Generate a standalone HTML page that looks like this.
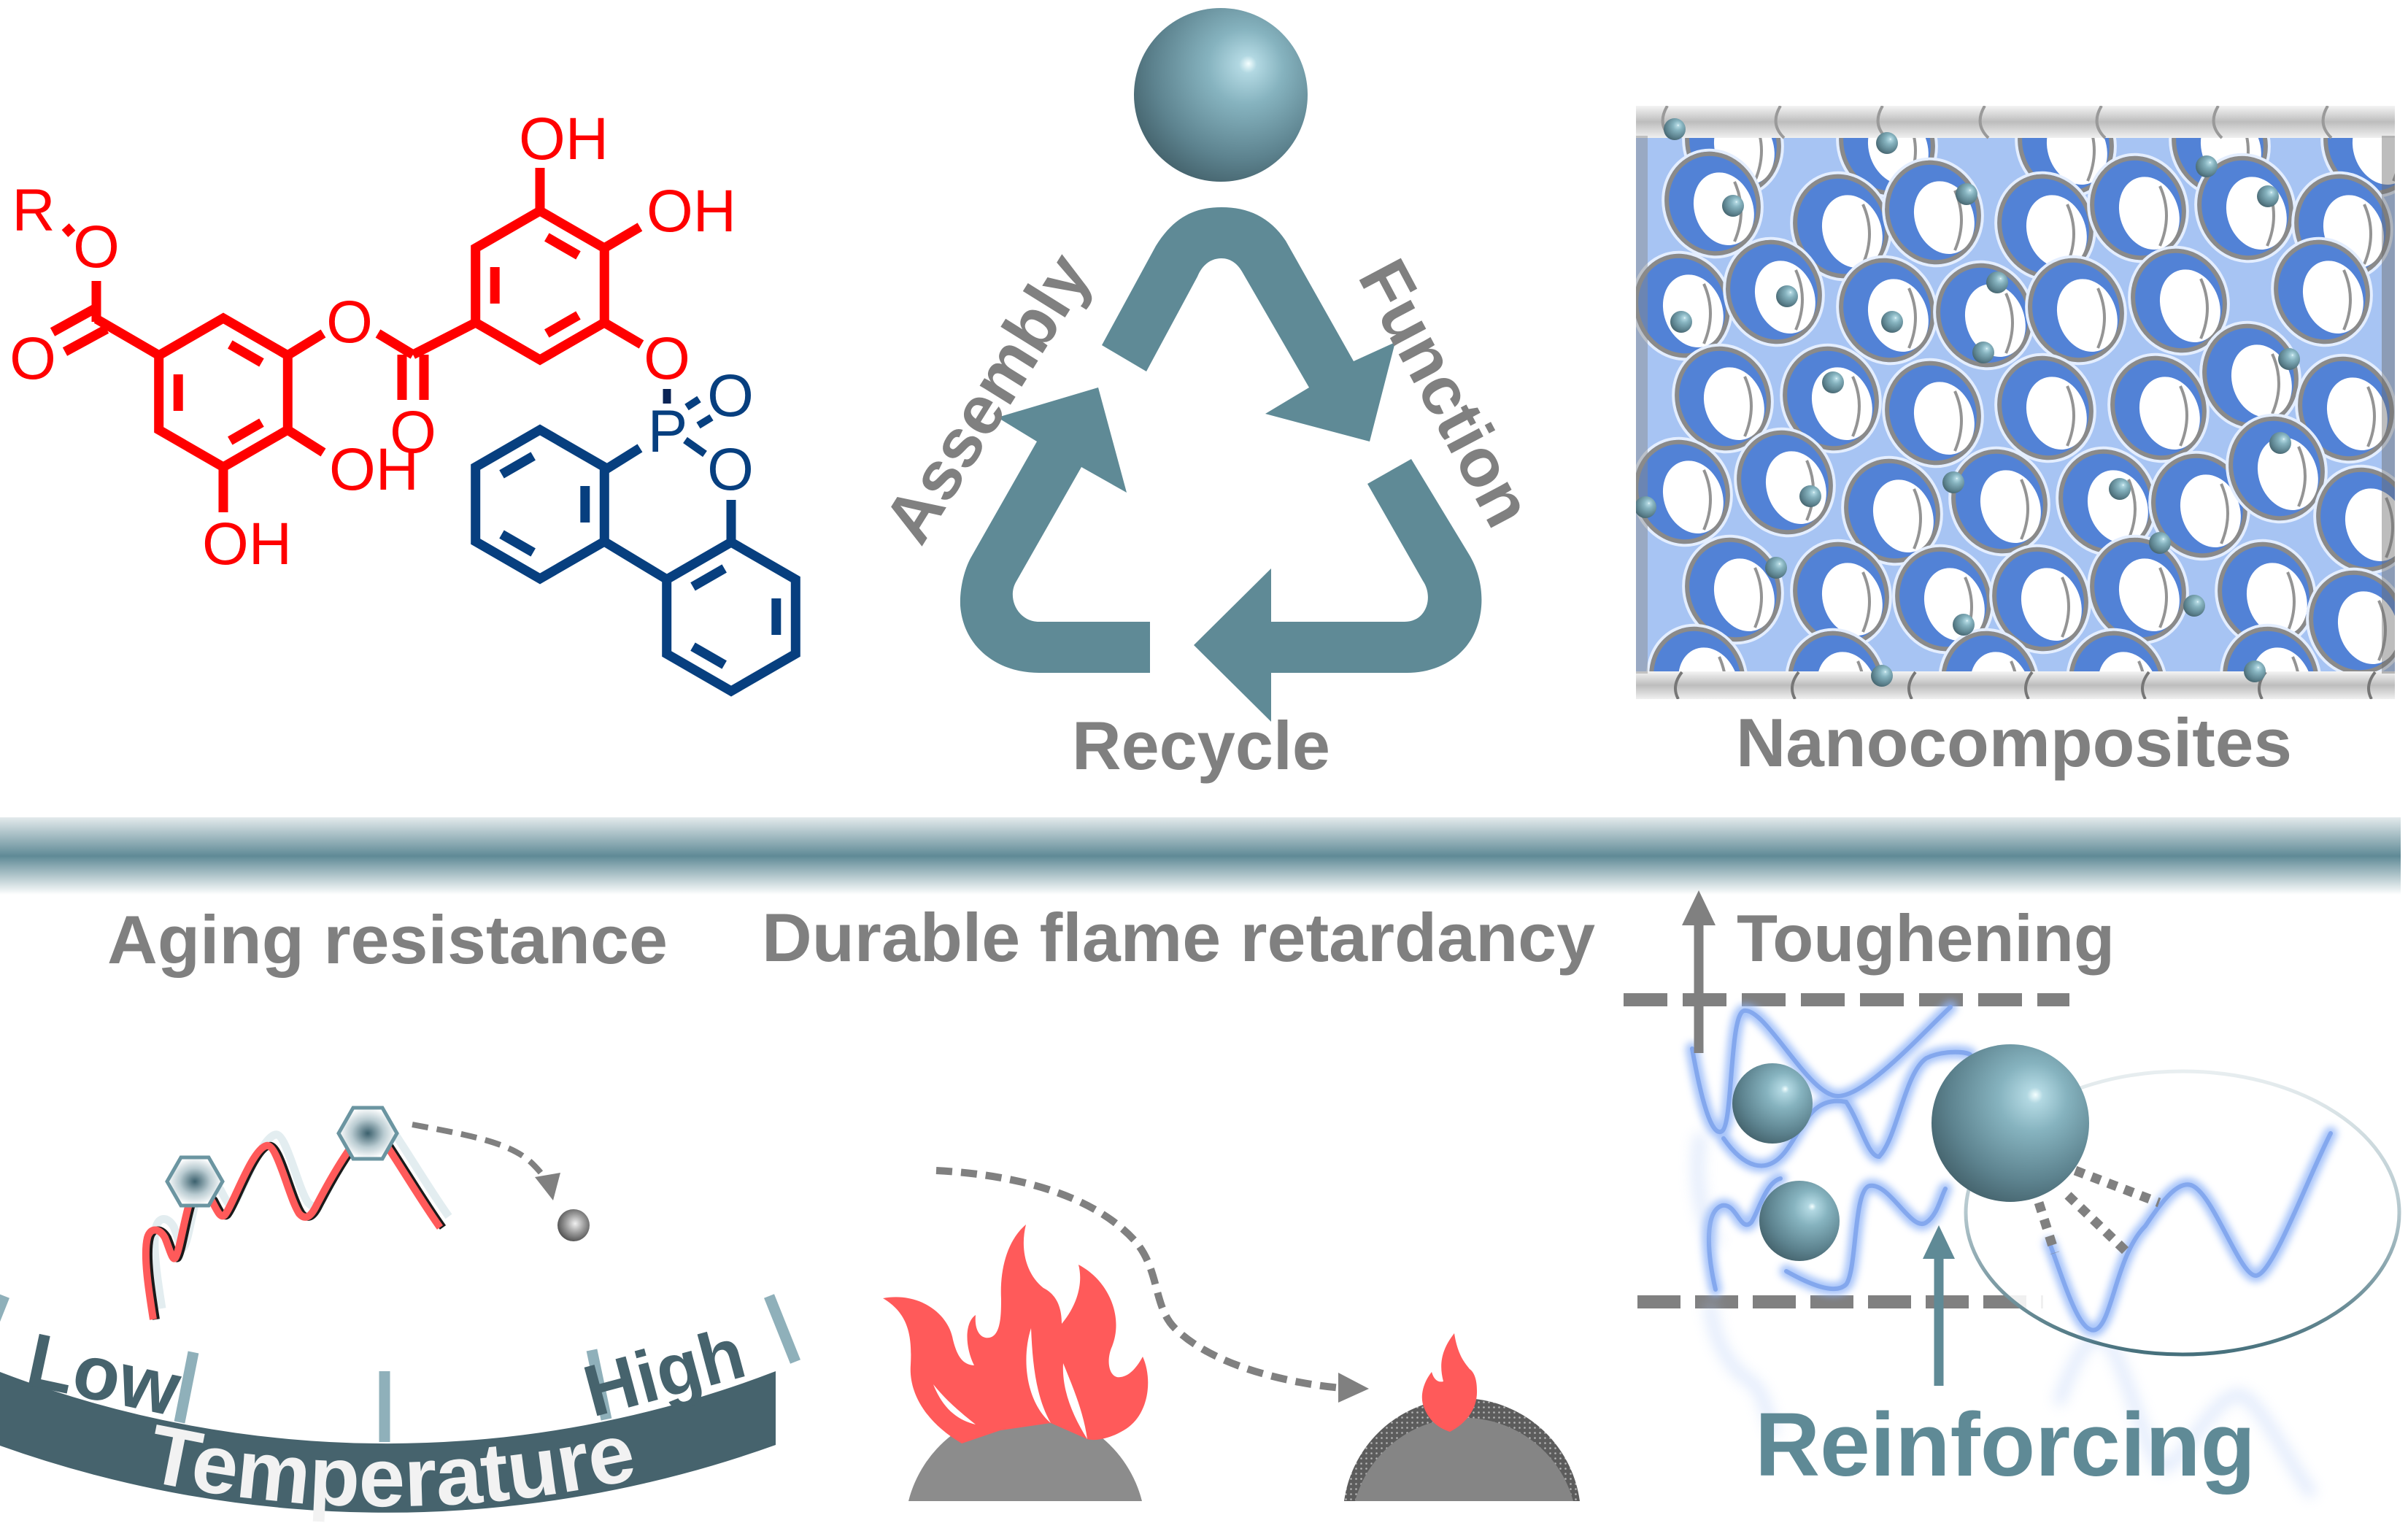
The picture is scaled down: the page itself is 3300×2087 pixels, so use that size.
<!DOCTYPE html>
<html><head><meta charset="utf-8"><style>html,body{margin:0;padding:0;background:#fff}svg{display:block}</style></head>
<body>
<svg xmlns="http://www.w3.org/2000/svg" xmlns:xlink="http://www.w3.org/1999/xlink" width="3300" height="2087" viewBox="0 0 3300 2087" font-family="'Liberation Sans', Arial, sans-serif">
<defs>
  <radialGradient id="sph" cx="0.6" cy="0.38" r="0.72" fx="0.66" fy="0.32">
    <stop offset="0" stop-color="#f4ffff"/>
    <stop offset="0.07" stop-color="#b2d8e2"/>
    <stop offset="0.3" stop-color="#86b3bf"/>
    <stop offset="0.7" stop-color="#5d838f"/>
    <stop offset="1" stop-color="#3e5a63"/>
  </radialGradient>
  <radialGradient id="gsph" cx="0.55" cy="0.45" r="0.6">
    <stop offset="0" stop-color="#f0f0f0"/>
    <stop offset="0.5" stop-color="#9a9a9a"/>
    <stop offset="1" stop-color="#4a4a4a"/>
  </radialGradient>
  <radialGradient id="hexg" cx="0.5" cy="0.5" r="0.5">
    <stop offset="0" stop-color="#3b606d"/>
    <stop offset="0.55" stop-color="#b9cbd1"/>
    <stop offset="1" stop-color="#ffffff"/>
  </radialGradient>
  <linearGradient id="bar" x1="0" y1="0" x2="0" y2="1">
    <stop offset="0" stop-color="#e3eaec"/>
    <stop offset="0.5" stop-color="#5f8a96"/>
    <stop offset="1" stop-color="#ffffff"/>
  </linearGradient>
  <linearGradient id="ell" gradientUnits="userSpaceOnUse" x1="0" y1="1468" x2="0" y2="1856">
    <stop offset="0" stop-color="#e8eef0"/>
    <stop offset="0.5" stop-color="#b4c7cd"/>
    <stop offset="1" stop-color="#46707c"/>
  </linearGradient>
  <linearGradient id="tube" x1="0" y1="0" x2="0" y2="1">
    <stop offset="0" stop-color="#f4f4f4"/>
    <stop offset="0.5" stop-color="#bdbdbd"/>
    <stop offset="1" stop-color="#f0f0f0"/>
  </linearGradient>
  <pattern id="dots" width="7" height="7" patternUnits="userSpaceOnUse">
    <rect width="7" height="7" fill="#5c5c5c"/>
    <circle cx="3.5" cy="3.5" r="1.3" fill="#b4b4b4"/>
  </pattern>
  <filter id="blur" x="-20%" y="-20%" width="140%" height="140%">
    <feGaussianBlur stdDeviation="5"/>
  </filter>
  <filter id="blur2" x="-20%" y="-20%" width="140%" height="140%">
    <feGaussianBlur stdDeviation="9"/>
  </filter>
  <clipPath id="foamclip"><rect x="2242" y="145" width="1040" height="813"/></clipPath>
  <polygon id="hx" points="0,-102 88.3,-51 88.3,51 0,102 -88.3,51 -88.3,-51" fill="none"/>
  <path id="dbA" d="M9.3,-66 L52.5,-41.1 M52.5,41.1 L9.3,66 M-61.8,25 L-61.8,-25" fill="none"/>
  <path id="dbB" d="M61.8,-25 L61.8,25 M-9.3,66 L-52.5,41.1 M-52.5,-41.1 L-9.3,-66" fill="none"/>
  <g id="hole">
    <ellipse rx="67" ry="74" fill="none" stroke="#e4eeff" stroke-width="4" transform="rotate(-20)"/>
    <ellipse rx="62" ry="69" fill="#5282d6" stroke="#8a8a8a" stroke-width="6" transform="rotate(-20)"/>
    <ellipse cx="12" cy="12" rx="40" ry="51" fill="#ffffff" transform="rotate(-20)"/>
    <path d="M30,-30 Q48,10 30,52" stroke="#2a2a2a" stroke-width="4" fill="none" opacity="0.5"/>
  </g>
  <circle id="ts" r="15" fill="url(#sph)"/>
</defs>

<!-- ============ TOP LEFT: CHEMICAL STRUCTURE ============ -->
<g stroke="#ff0000" stroke-width="13" fill="none" stroke-linejoin="miter">
  <use xlink:href="#hx" x="306" y="538"/><use xlink:href="#dbA" x="306" y="538"/>
  <use xlink:href="#hx" x="740" y="391"/><use xlink:href="#dbA" x="740" y="391"/>
  <line x1="218" y1="487" x2="132" y2="437"/>
  <line x1="132" y1="441" x2="132" y2="385"/>
  <line x1="72" y1="455" x2="130" y2="423"/>
  <line x1="89" y1="482" x2="146" y2="451"/>
  <line x1="89" y1="320" x2="99" y2="311"/>
  <line x1="394" y1="487" x2="443" y2="457"/>
  <line x1="518" y1="457" x2="566" y2="486"/>
  <line x1="566" y1="486" x2="652" y2="442"/>
  <line x1="551" y1="486" x2="551" y2="548"/>
  <line x1="581" y1="486" x2="581" y2="548"/>
  <line x1="394" y1="589" x2="443" y2="620"/>
  <line x1="306" y1="640" x2="306" y2="702"/>
  <line x1="740" y1="289" x2="740" y2="230"/>
  <line x1="828" y1="340" x2="877" y2="311"/>
  <line x1="828" y1="442" x2="879" y2="472"/>
</g>
<g fill="#ff0000" font-size="82">
  <text x="46" y="316" text-anchor="middle">R</text>
  <text x="132" y="366" text-anchor="middle">O</text>
  <text x="45" y="519" text-anchor="middle">O</text>
  <text x="479" y="469" text-anchor="middle">O</text>
  <text x="566" y="620" text-anchor="middle">O</text>
  <text x="451" y="671">OH</text>
  <text x="277" y="773">OH</text>
  <text x="711" y="218">OH</text>
  <text x="886" y="317">OH</text>
  <text x="914" y="519" text-anchor="middle">O</text>
</g>
<g stroke="#073f7f" stroke-width="13" fill="none">
  <use xlink:href="#hx" x="740" y="691"/><use xlink:href="#dbB" x="740" y="691"/>
  <use xlink:href="#hx" x="1002" y="845"/><use xlink:href="#dbB" x="1002" y="845"/>
  <line x1="828" y1="742" x2="914" y2="794"/>
  <line x1="829" y1="644" x2="877" y2="614"/>
  <line x1="1002" y1="685" x2="1002" y2="743"/>
  <line x1="941" y1="558" x2="958" y2="547" stroke-width="10"/>
  <line x1="957" y1="583" x2="975" y2="572" stroke-width="10"/>
  <line x1="939" y1="603" x2="966" y2="622" stroke-width="10"/>
</g>
<line x1="914" y1="533" x2="914" y2="553" stroke="#0a2456" stroke-width="11"/>
<g fill="#073f7f" font-size="82">
  <text x="915" y="619" text-anchor="middle">P</text>
  <text x="1001" y="570" text-anchor="middle">O</text>
  <text x="1001" y="671" text-anchor="middle">O</text>
</g>

<!-- ============ TOP MIDDLE: RECYCLE ============ -->
<circle cx="1673" cy="130" r="119" fill="url(#sph)"/>
<g fill="#5f8a96">
  <path d="M1510,473 L1584,337 C1610,295 1640,284 1674,284 C1710,284 1740,297 1762,330 L1855,495 L1912,469 L1877,605 L1734,567 L1794,531 L1702,372 C1695,360 1685,354 1674,354 C1660,354 1648,362 1641,379 L1571,509 Z"/>
  <path d="M1874,663 L1934,629 L2014,761 C2037,800 2036,852 2010,885 C1990,910 1960,922 1928,922 L1742,922 L1742,989 L1636,884 L1742,779 L1742,852 L1925,852 C1955,852 1965,818 1950,796 Z"/>
  <path d="M1576,922 L1424,922 C1365,922 1320,885 1316,830 C1315,805 1322,780 1330,765 L1421,605 L1367,572 L1505,531 L1544,675 L1482,640 L1392,798 C1380,820 1395,852 1424,852 L1576,852 Z"/>
</g>
<g fill="#808080" font-weight="bold" font-size="94">
  <text transform="translate(1352,545) rotate(-58)" y="33" text-anchor="middle">Assembly</text>
  <text transform="translate(1982,538) rotate(62)" y="33" text-anchor="middle">Function</text>
  <text x="1646" y="1054" text-anchor="middle" textLength="354" lengthAdjust="spacingAndGlyphs">Recycle</text>
  <text x="2379" y="1050" textLength="762" lengthAdjust="spacingAndGlyphs">Nanocomposites</text>
</g>

<!-- ============ TOP RIGHT: NANOCOMPOSITE FOAM ============ -->
<g clip-path="url(#foamclip)">
  <rect x="2242" y="186" width="1040" height="737" fill="#a7c4f3"/>
  <g>
    <use xlink:href="#hole" x="2375" y="196"/><use xlink:href="#hole" x="2586" y="196"/><use xlink:href="#hole" x="2831" y="196"/><use xlink:href="#hole" x="3042" y="196"/><use xlink:href="#hole" x="3250" y="196"/>
    <use xlink:href="#hole" x="2347" y="279"/><use xlink:href="#hole" x="2523" y="310"/><use xlink:href="#hole" x="2649" y="291"/><use xlink:href="#hole" x="2803" y="310"/><use xlink:href="#hole" x="2930" y="285"/><use xlink:href="#hole" x="3077" y="285"/><use xlink:href="#hole" x="3210" y="310"/>
    <use xlink:href="#hole" x="2305" y="419"/><use xlink:href="#hole" x="2431" y="400"/><use xlink:href="#hole" x="2586" y="425"/><use xlink:href="#hole" x="2719" y="432"/><use xlink:href="#hole" x="2845" y="425"/><use xlink:href="#hole" x="2986" y="412"/><use xlink:href="#hole" x="3182" y="400"/>
    <use xlink:href="#hole" x="2361" y="546"/><use xlink:href="#hole" x="2509" y="546"/><use xlink:href="#hole" x="2649" y="566"/><use xlink:href="#hole" x="2803" y="559"/><use xlink:href="#hole" x="2958" y="559"/><use xlink:href="#hole" x="3084" y="515"/><use xlink:href="#hole" x="3215" y="560"/>
    <use xlink:href="#hole" x="2305" y="674"/><use xlink:href="#hole" x="2446" y="661"/><use xlink:href="#hole" x="2593" y="700"/><use xlink:href="#hole" x="2740" y="687"/><use xlink:href="#hole" x="2887" y="687"/><use xlink:href="#hole" x="3014" y="693"/><use xlink:href="#hole" x="3120" y="642"/><use xlink:href="#hole" x="3240" y="712"/>
    <use xlink:href="#hole" x="2375" y="808"/><use xlink:href="#hole" x="2523" y="814"/><use xlink:href="#hole" x="2663" y="821"/><use xlink:href="#hole" x="2796" y="821"/><use xlink:href="#hole" x="2930" y="808"/><use xlink:href="#hole" x="3105" y="814"/><use xlink:href="#hole" x="3230" y="853"/>
    <use xlink:href="#hole" x="2326" y="930"/><use xlink:href="#hole" x="2516" y="936"/><use xlink:href="#hole" x="2726" y="936"/><use xlink:href="#hole" x="2901" y="936"/><use xlink:href="#hole" x="3112" y="930"/>
  </g>
  <rect x="2242" y="145" width="1040" height="44" fill="url(#tube)"/>
  <g fill="none" stroke="#9a9a9a" stroke-width="4">
    <path d="M2285,145 Q2270,170 2290,189 M2440,145 Q2425,170 2445,189 M2580,145 Q2565,170 2585,189 M2720,145 Q2705,170 2725,189 M2880,145 Q2865,170 2885,189 M3040,145 Q3025,170 3045,189 M3190,145 Q3175,170 3195,189"/>
  </g>
  <rect x="2242" y="920" width="1040" height="38" fill="url(#tube)"/>
  <g fill="none" stroke="#777" stroke-width="4">
    <path d="M2300,958 Q2290,940 2305,921 M2460,958 Q2450,940 2465,921 M2620,958 Q2610,940 2625,921 M2780,958 Q2770,940 2785,921 M2940,958 Q2930,940 2945,921 M3100,958 Q3090,940 3105,921 M3250,958 Q3240,940 3255,921"/>
  </g>
  <rect x="2242" y="186" width="16" height="737" fill="#8a8a8a" opacity="0.45"/>
  <rect x="3264" y="186" width="18" height="737" fill="#6d6d6d" opacity="0.45"/>
  <g>
    <use xlink:href="#ts" x="2295" y="177"/><use xlink:href="#ts" x="2586" y="196"/><use xlink:href="#ts" x="2375" y="282"/><use xlink:href="#ts" x="2695" y="266"/>
    <use xlink:href="#ts" x="3024" y="228"/><use xlink:href="#ts" x="3108" y="269"/><use xlink:href="#ts" x="2737" y="387"/><use xlink:href="#ts" x="2449" y="406"/>
    <use xlink:href="#ts" x="2304" y="441"/><use xlink:href="#ts" x="2593" y="441"/><use xlink:href="#ts" x="2718" y="483"/><use xlink:href="#ts" x="2512" y="524"/>
    <use xlink:href="#ts" x="3137" y="492"/><use xlink:href="#ts" x="3125" y="607"/><use xlink:href="#ts" x="2677" y="661"/><use xlink:href="#ts" x="2905" y="670"/>
    <use xlink:href="#ts" x="2481" y="680"/><use xlink:href="#ts" x="2255" y="695"/><use xlink:href="#ts" x="2960" y="744"/><use xlink:href="#ts" x="2434" y="778"/>
    <use xlink:href="#ts" x="3007" y="830"/><use xlink:href="#ts" x="2691" y="856"/><use xlink:href="#ts" x="2579" y="926"/><use xlink:href="#ts" x="3090" y="920"/>
  </g>
</g>

<!-- ============ SEPARATOR BAR ============ -->
<rect x="0" y="1120" width="3290" height="106" fill="url(#bar)"/>

<!-- ============ BOTTOM TITLES ============ -->
<g fill="#808080" font-weight="bold" font-size="94">
  <text x="147" y="1320" textLength="768" lengthAdjust="spacingAndGlyphs">Aging resistance</text>
  <text x="1044" y="1317" textLength="1142" lengthAdjust="spacingAndGlyphs">Durable flame retardancy</text>
  <text x="2380" y="1317" font-size="91" textLength="518" lengthAdjust="spacingAndGlyphs">Toughening</text>
</g>

<!-- ============ AGING RESISTANCE ============ -->
<g stroke="#8fb0ba" stroke-width="15">
  <line x1="265" y1="1853" x2="246" y2="1949"/>
  <line x1="527" y1="1879" x2="527" y2="1976"/>
  <line x1="811" y1="1850" x2="831" y2="1945"/>
  <line x1="6" y1="1776" x2="-30" y2="1866"/>
  <line x1="1054" y1="1776" x2="1090" y2="1866"/>
</g>
<path d="M0,1880 A1482,1482 0 0 0 1063,1879 L1063,1980 A1577,1577 0 0 1 0,1981 Z" fill="#46636d"/>
<path id="tp" d="M-150,1909 A1569,1569 0 0 0 1210,1909" fill="none"/>
<text font-size="114" font-weight="bold" fill="#f2f2f2"><textPath xlink:href="#tp" startOffset="50.5%" text-anchor="middle">Temperature</textPath></text>
<g fill="#46636d" font-weight="bold">
  <text transform="translate(32,1897) rotate(12)" font-size="105">Low</text>
  <text transform="translate(812,1942) rotate(-15)" font-size="100">High</text>
</g>
<!-- chain -->
<path d="M222,1793 C216,1755 208,1705 214,1681 C218,1667 230,1667 238,1681 C244,1695 248,1713 252,1709 C258,1701 264,1655 274,1625 L279,1604 L302,1630 C310,1645 314,1655 320,1650 C332,1635 357,1560 377,1555 C392,1551 407,1625 422,1648 C430,1657 437,1653 444,1640 C462,1605 482,1570 502,1545 L516,1538 L542,1555 C562,1585 592,1635 615,1667" fill="none" stroke="#e3edf0" stroke-width="11"/>
<path d="M214,1808 C208,1770 200,1720 206,1696 C210,1682 222,1682 230,1696 C236,1710 240,1728 244,1724 C250,1716 256,1670 266,1640 L271,1619 L294,1645 C302,1660 306,1670 312,1665 C324,1650 349,1575 369,1570 C384,1566 399,1640 414,1663 C422,1672 429,1668 436,1655 C454,1620 474,1585 494,1560 L508,1553 L534,1570 C554,1600 584,1650 607,1682" fill="none" stroke="#1a1a1a" stroke-width="10"/>
<path d="M210,1808 C204,1770 196,1720 202,1696 C206,1682 218,1682 226,1696 C232,1710 236,1728 240,1724 C246,1716 252,1670 262,1640 L267,1619 L290,1645 C298,1660 302,1670 308,1665 C320,1650 345,1575 365,1570 C380,1566 395,1640 410,1663 C418,1672 425,1668 432,1655 C450,1620 470,1585 490,1560 L504,1553 L530,1570 C550,1600 580,1650 603,1682" fill="none" stroke="#ff5a5a" stroke-width="10"/>
<polygon points="305,1619 286,1652 248,1652 229,1619 248,1586 286,1586" fill="url(#hexg)" stroke="#6b95a1" stroke-width="5"/>
<polygon points="544,1553 524,1588 484,1588 464,1553 484,1518 524,1518" fill="url(#hexg)" stroke="#6b95a1" stroke-width="5"/>
<path d="M565,1541 C640,1555 700,1565 730,1595 C742,1607 748,1615 752,1625" fill="none" stroke="#808080" stroke-width="8" stroke-dasharray="22 12"/>
<polygon points="733,1613 768,1607 758,1645" fill="#808080"/>
<circle cx="786" cy="1679" r="22" fill="url(#gsph)"/>

<!-- ============ FLAME RETARDANCY ============ -->
<path d="M1245,2057 A165,165 0 0 1 1565,2057 Z" fill="#8c8c8c"/>
<path d="M1210,1779 C1260,1770 1300,1800 1306,1836 C1312,1860 1320,1870 1335,1871 C1322,1845 1322,1812 1337,1802 C1335,1825 1345,1835 1356,1833 C1372,1830 1372,1800 1372,1780 C1370,1740 1380,1700 1406,1678 C1398,1710 1405,1745 1430,1765 C1450,1775 1455,1795 1455,1814 C1475,1790 1485,1760 1478,1733 C1520,1755 1540,1805 1524,1845 C1515,1865 1520,1890 1536,1887 C1550,1885 1560,1870 1566,1859 C1580,1890 1575,1940 1540,1960 C1520,1972 1500,1975 1490,1972 L1440,1950 L1371,1960 L1318,1978 C1270,1950 1245,1910 1248,1870 C1250,1830 1245,1800 1210,1779 Z" fill="#ff5a5a"/>
<path d="M1279,1897 C1292,1930 1312,1946 1337,1952 C1312,1932 1296,1918 1279,1897 Z" fill="#fff"/>
<path d="M1413,1820 C1400,1860 1405,1920 1440,1950 C1420,1915 1415,1870 1413,1820 Z" fill="#fff"/>
<path d="M1457,1868 C1455,1905 1470,1940 1490,1972 C1485,1935 1470,1900 1457,1868 Z" fill="#fff"/>
<path d="M1283,1604 C1400,1610 1500,1640 1555,1700 C1590,1740 1580,1790 1610,1820 C1660,1870 1760,1895 1838,1902" fill="none" stroke="#808080" stroke-width="10" stroke-dasharray="22 12"/>
<polygon points="1834,1881 1876,1903 1834,1922" fill="#808080"/>
<path d="M1842,2057 A163,163 0 0 1 2165,2057 Z" fill="url(#dots)"/>
<path d="M1857,2057 A155,155 0 0 1 2156,2057 Z" fill="#858585"/>
<path d="M1993,1827 C1975,1850 1972,1870 1978,1893 C1970,1895 1965,1890 1962,1880 C1950,1895 1945,1915 1952,1930 C1960,1950 1975,1958 1987,1962 C2010,1950 2025,1930 2024,1905 C2024,1890 2020,1880 2014,1876 C2010,1870 1998,1860 1993,1827 Z" fill="#ff5a5a"/>

<!-- ============ TOUGHENING / REINFORCING ============ -->
<line x1="2225" y1="1370" x2="2836" y2="1370" stroke="#808080" stroke-width="18" stroke-dasharray="60 21"/>
<line x1="2244" y1="1784" x2="2800" y2="1784" stroke="#808080" stroke-width="18" stroke-dasharray="59 20"/>
<g fill="none" stroke-linecap="round">
  <g stroke="#8fb4f8" stroke-width="18" filter="url(#blur)" opacity="0.8">
    <path d="M2319,1437 C2330,1500 2345,1560 2360,1550 C2375,1540 2370,1390 2390,1385 C2420,1380 2480,1505 2520,1502 C2560,1500 2640,1410 2673,1380"/>
    <path d="M2362,1560 C2390,1600 2420,1610 2445,1580 C2470,1550 2480,1500 2530,1510 C2550,1540 2560,1585 2575,1585 C2600,1560 2610,1470 2640,1450 C2660,1440 2690,1440 2700,1445"/>
    <path d="M2351,1767 C2340,1720 2335,1660 2360,1652 C2380,1648 2385,1690 2400,1675 C2410,1660 2420,1620 2440,1615"/>
    <path d="M2448,1742 C2480,1760 2515,1775 2530,1760 C2545,1740 2540,1630 2562,1625 C2590,1620 2620,1690 2640,1675 C2655,1665 2660,1640 2666,1629"/>
  </g>
  <g stroke="#7fa4ec" stroke-width="6" opacity="0.9">
    <path d="M2319,1437 C2330,1500 2345,1560 2360,1550 C2375,1540 2370,1390 2390,1385 C2420,1380 2480,1505 2520,1502 C2560,1500 2640,1410 2673,1380"/>
    <path d="M2362,1560 C2390,1600 2420,1610 2445,1580 C2470,1550 2480,1500 2530,1510 C2550,1540 2560,1585 2575,1585 C2600,1560 2610,1470 2640,1450 C2660,1440 2690,1440 2700,1445"/>
    <path d="M2351,1767 C2340,1720 2335,1660 2360,1652 C2380,1648 2385,1690 2400,1675 C2410,1660 2420,1620 2440,1615"/>
    <path d="M2448,1742 C2480,1760 2515,1775 2530,1760 C2545,1740 2540,1630 2562,1625 C2590,1620 2620,1690 2640,1675 C2655,1665 2660,1640 2666,1629"/>
  </g>
  <g stroke="#a9c4f5" stroke-width="16" filter="url(#blur2)" opacity="0.35">
    <path d="M2330,1560 C2320,1620 2335,1680 2350,1700"/>
    <path d="M2344,1790 C2350,1850 2380,1880 2395,1890 C2420,1905 2420,1940 2430,1960"/>
    <path d="M2823,1918 C2840,1870 2860,1830 2880,1832 C2910,1840 2940,2010 2966,2010 C2990,2010 3040,1900 3073,1912 C3100,1925 3140,2010 3166,2044"/>
  </g>
</g>
<circle cx="2429" cy="1512" r="55" fill="url(#sph)"/>
<circle cx="2466" cy="1673" r="55" fill="url(#sph)"/>
<ellipse cx="2991" cy="1662" rx="297" ry="194" fill="#ffffff" fill-opacity="0.88" stroke="url(#ell)" stroke-width="5"/>
<g fill="none" stroke-linecap="round">
  <path d="M2809,1704 C2830,1760 2850,1830 2872,1822 C2895,1812 2900,1720 2940,1680 C2960,1650 2985,1615 3005,1625 C3035,1640 3070,1750 3092,1748 C3115,1745 3160,1620 3194,1553" stroke="#8fb4f8" stroke-width="18" filter="url(#blur)" opacity="0.8"/>
  <path d="M2809,1704 C2830,1760 2850,1830 2872,1822 C2895,1812 2900,1720 2940,1680 C2960,1650 2985,1615 3005,1625 C3035,1640 3070,1750 3092,1748 C3115,1745 3160,1620 3194,1553" stroke="#7fa4ec" stroke-width="6" opacity="0.9"/>
</g>
<circle cx="2755" cy="1539" r="108" fill="url(#sph)"/>
<g stroke="#808080" stroke-width="13" stroke-dasharray="13 11">
  <line x1="2844" y1="1604" x2="2959" y2="1648"/>
  <line x1="2834" y1="1638" x2="2916" y2="1717"/>
  <line x1="2794" y1="1648" x2="2816" y2="1717"/>
</g>
<line x1="2328" y1="1443" x2="2328" y2="1262" stroke="#808080" stroke-width="13"/>
<polygon points="2328,1220 2305,1268 2351,1268" fill="#808080"/>
<line x1="2657" y1="1899" x2="2657" y2="1718" stroke="#5f8a96" stroke-width="13"/>
<polygon points="2657,1679 2635,1725 2679,1725" fill="#5f8a96"/>
<text x="2405" y="2022" font-size="123" font-weight="bold" fill="#5f8a96" textLength="686" lengthAdjust="spacingAndGlyphs">Reinforcing</text>
</svg>
</body></html>
